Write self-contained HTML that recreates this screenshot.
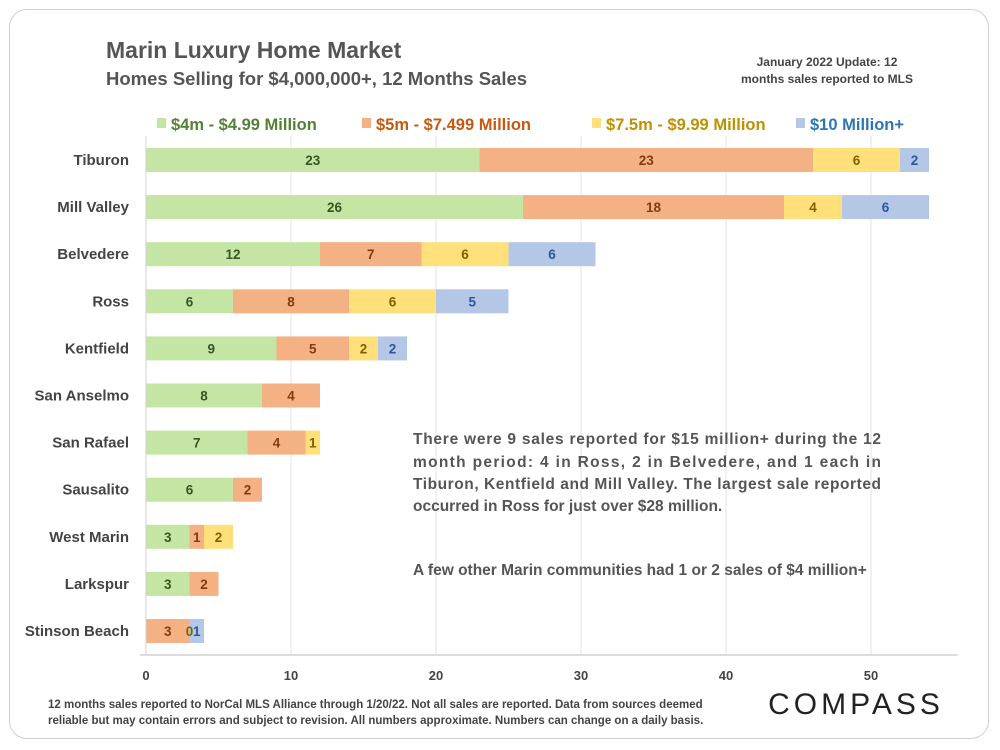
<!DOCTYPE html>
<html><head><meta charset="utf-8"><style>
body{margin:0;background:#fff;width:1000px;height:750px;overflow:hidden;font-family:"Liberation Sans",sans-serif}
#frame{position:absolute;left:9px;top:9px;width:980px;height:730px;border:1.5px solid #cfcfcf;border-radius:18px;box-sizing:border-box}
</style></head><body>
<div id="frame"></div>
<svg id="chart" width="1000" height="750" style="position:absolute;left:0;top:0">
<text x="106" y="58" font-size="23" font-weight="bold" fill="#555">Marin Luxury Home Market</text>
<text x="106" y="85" font-size="18.5" font-weight="bold" fill="#555">Homes Selling for $4,000,000+, 12 Months Sales</text>
<text x="827" y="66" font-size="12" font-weight="bold" fill="#444" text-anchor="middle">January 2022 Update: 12</text>
<text x="827" y="83" font-size="12" font-weight="bold" fill="#444" text-anchor="middle">months sales reported to MLS</text>
<g id="legend"></g>
<g id="grid"></g>
<g id="bars"></g>
<g id="labels"></g>
<g id="axis"></g>
<text font-size="15.5" font-weight="bold" fill="#555">
<tspan x="413" y="444" textLength="468" lengthAdjust="spacing">There were 9 sales reported for $15 million+ during the 12</tspan>
<tspan x="413" y="467" textLength="468" lengthAdjust="spacing">month period: 4 in Ross, 2 in Belvedere, and 1 each in</tspan>
<tspan x="413" y="489" textLength="468" lengthAdjust="spacing">Tiburon, Kentfield and Mill Valley. The largest sale reported</tspan>
<tspan x="413" y="511">occurred in Ross for just over $28 million.</tspan>
<tspan x="413" y="575">A few other Marin communities had 1 or 2 sales of $4 million+</tspan>
</text>
<text font-size="11.5" font-weight="bold" fill="#444">
<tspan x="48" y="708">12 months sales reported to NorCal MLS Alliance through 1/20/22. Not all sales are reported. Data from sources deemed</tspan>
<tspan x="48" y="724">reliable but may contain errors and subject to revision. All numbers approximate. Numbers can change on a daily basis.</tspan>
</text>
<text x="856" y="714" font-size="30" fill="#222" text-anchor="middle" letter-spacing="4">COMPASS</text>
</svg>
<script>
const categories=["Tiburon","Mill Valley","Belvedere","Ross","Kentfield","San Anselmo","San Rafael","Sausalito","West Marin","Larkspur","Stinson Beach"];
const s4m=[23,26,12,6,9,8,7,6,3,3,null];
const s5m=[23,18,7,8,5,4,4,2,1,2,3];
const s75m=[6,4,6,6,2,null,1,null,2,null,0];
const s10m=[2,6,6,5,2,null,null,null,null,null,1];
const seriesNames=["$4m - $4.99 Million","$5m - $7.499 Million","$7.5m - $9.99 Million","$10 Million+"];
const ticks=[0,10,20,30,40,50];
const series=[s4m,s5m,s75m,s10m];
const fills=["#c5e5a5","#f4b183","#ffe07a","#b4c7e7"];
const txt=["#375623","#843c0c","#7f6000","#2f5597"];
const legTxt=["#548235","#c55a11","#bf9000","#2e75b6"];
const NS="http://www.w3.org/2000/svg";
const X0=146,PX=14.5,Y0=160,DY=47.1,BH=24;
const xs=v=>X0+v*PX, ys=i=>Y0+i*DY;
function mk(t,a,p){const e=document.createElementNS(NS,t);for(const k in a)e.setAttribute(k,a[k]);p.appendChild(e);return e;}
const grid=document.getElementById('grid'),bars=document.getElementById('bars'),labels=document.getElementById('labels'),axis=document.getElementById('axis'),leg=document.getElementById('legend');
ticks.forEach(t=>{if(t>0){const l=mk('line',{x1:xs(t),x2:xs(t),y1:136,y2:655,stroke:'#e3e3e3'},grid);}
const tx=mk('text',{x:xs(t),y:680,'font-size':13,'font-weight':'bold',fill:'#444','text-anchor':'middle'},axis);tx.textContent=t;
});
const al=mk('line',{x1:X0-6,x2:958,y1:655,y2:655,stroke:'#d0d0d0','stroke-width':1.5},axis);

const yl=mk('line',{x1:X0,x2:X0,y1:136,y2:655,stroke:'#d0d0d0'},axis);

categories.forEach((c,i)=>{
 const t=mk('text',{x:129,y:ys(i)+5,'font-size':15,'font-weight':'bold',fill:'#444','text-anchor':'end'},axis);t.textContent=c;
 
 let acc=0;
 series.forEach((s,j)=>{const v=s[i];if(v===null)return;
  const r=mk('rect',{x:xs(acc),y:ys(i)-BH/2,width:v*PX,height:BH,fill:fills[j]},bars);
  
  const lb=mk('text',{x:xs(acc+v/2),y:ys(i)+5,'font-size':13.5,'font-weight':'bold',fill:txt[j],'text-anchor':'middle'},labels);lb.textContent=v;
  
  acc+=v;});
});
const lx=[157,362,592,796];
seriesNames.forEach((n,j)=>{
 const r=mk('rect',{x:lx[j],y:118,width:9,height:10,fill:fills[j]},leg);
 
 const t=mk('text',{x:lx[j]+14,y:130,'font-size':16.5,'font-weight':'bold',fill:legTxt[j]},leg);t.textContent=n;
 
});
</script>
</body></html>
